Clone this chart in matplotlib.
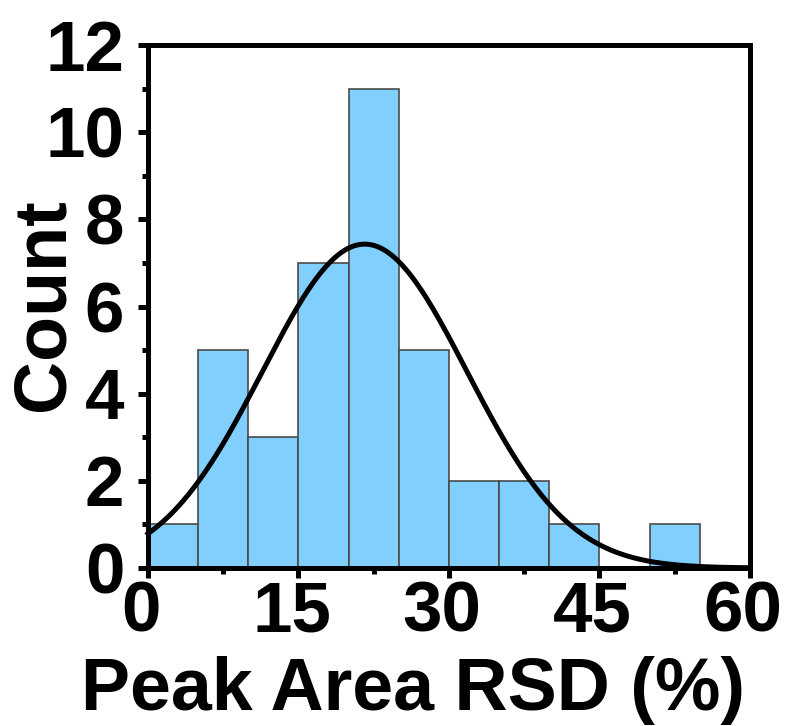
import numpy as np
import matplotlib
matplotlib.use("Agg")
import matplotlib.pyplot as plt
from matplotlib.ticker import MultipleLocator
from matplotlib.transforms import ScaledTranslation

plt.rcParams['font.family'] = ['Liberation Sans', 'DejaVu Sans']
plt.rcParams['font.weight'] = 'bold'

# Histogram of peak-area RSD values (bin width 5 %)
bin_edges = [0, 5, 10, 15, 20, 25, 30, 35, 40, 45, 50, 55]
counts = [1, 5, 3, 7, 11, 5, 2, 2, 1, 0, 1]

# Normal fit overlay
fit_mean = 21.6
fit_sd = 10.2
bin_width = 5

fig = plt.figure(figsize=(7.85, 7.26), dpi=100)
ax = fig.add_axes([0.1885, 0.2176, 0.9554 - 0.1885, 0.938 - 0.2176])

lefts = np.array(bin_edges[:-1])
widths = np.diff(bin_edges)
ax.bar(lefts, counts, width=widths, align='edge', color='#80CFFF',
       edgecolor='#4a4a4a', linewidth=1.2, zorder=2)

n_total = sum(counts)
xs = np.linspace(0, 60, 400)
ys = n_total * bin_width / (fit_sd * np.sqrt(2 * np.pi)) * np.exp(-(xs - fit_mean) ** 2 / (2 * fit_sd ** 2))
ax.plot(xs, ys, color='black', linewidth=3.6, zorder=3, clip_on=False)

ax.set_xlim(0, 60)
ax.set_ylim(0, 12)
ax.xaxis.set_major_locator(MultipleLocator(15))
ax.xaxis.set_minor_locator(MultipleLocator(7.5))
ax.yaxis.set_major_locator(MultipleLocator(2))
ax.yaxis.set_minor_locator(MultipleLocator(1))

for s in ax.spines.values():
    s.set_linewidth(3.6)
    s.set_zorder(4)

ax.tick_params(which='major', direction='out', length=7, width=3.6,
               labelsize=51)
ax.tick_params(axis='x', which='major', pad=2)
ax.tick_params(axis='y', which='major', pad=10)
ax.tick_params(which='minor', direction='out', length=4.5, width=3.6)
ax.tick_params(top=False, right=False, which='both')

shift = ScaledTranslation(-7 / 100, 0, fig.dpi_scale_trans)
for lab in ax.get_xticklabels():
    lab.set_fontweight('bold')
    lab.set_transform(lab.get_transform() + shift)
for lab in ax.get_yticklabels():
    lab.set_fontweight('bold')

ax.set_xlabel('Peak Area RSD (%)', fontsize=53, fontweight='bold')
ax.xaxis.label.set_va('baseline')
ax.xaxis.set_label_coords(0.441, -0.272)

ax.set_ylabel('Count', fontsize=53, fontweight='bold')
ax.yaxis.label.set_va('baseline')
ax.yaxis.set_label_coords(-0.14, 0.503)

fig.savefig('out.png', dpi=100)
